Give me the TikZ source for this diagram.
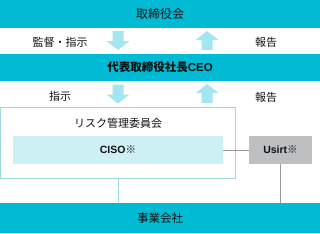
\documentclass[tikz,border=0pt]{standalone}
\usepackage{fontspec}
\setmainfont{Noto Sans CJK JP}
\newfontfamily\latinbold{Liberation Sans}[Scale=1.0]
\definecolor{teal1}{HTML}{00BBD3}
\definecolor{arrowc}{HTML}{A5E5EF}
\definecolor{riskb}{HTML}{9ED8E0}
\definecolor{cisof}{HTML}{CCF0F4}
\definecolor{usirtf}{HTML}{BEBFC1}
\definecolor{linec}{HTML}{9A9A9A}
\definecolor{txt}{HTML}{111111}
\begin{document}
\begin{tikzpicture}[x=1pt,y=-1pt,
  bar/.style={fill=teal1, minimum width=320pt, inner sep=0pt, text=txt, font=\fontsize{12}{14}\selectfont},
  lbl/.style={text=txt, inner sep=0pt, font=\fontsize{11}{13}\selectfont},
  blockarr/.pic={\fill[arrowc] (-5.5,-9.5) -- (5.5,-9.5) -- (5.5,0.5) -- (11.5,0.5) -- (0,9.5) -- (-11.5,0.5) -- (-5.5,0.5) -- cycle;},
  conn/.style={draw=linec, line width=0.8pt},
  smallbox/.style={minimum height=28pt, inner sep=0pt, text=txt, font=\fontsize{10.5}{12}\selectfont\bfseries}
]
\useasboundingbox (0,0) rectangle (320,233);
% bars
\node[bar, minimum height=28pt] (board) at (160,14) {取締役会};
\node[bar, minimum height=27pt, font=\fontsize{11.5}{13}\selectfont\bfseries] (ceo) at (160,67.5) {代表取締役社長{\latinbold\bfseries CEO}};
\node[bar, minimum height=30pt, font=\fontsize{11.5}{13}\selectfont] (company) at (160,218) {事業会社};
% labels row 1
\node[lbl] (l1) at (60,42) {監督・指示};
\node[lbl] (r1) at (266,42) {報告};
\pic at (118,40.5) {blockarr};
\pic[yscale=-1] at (207,40.5) {blockarr};
% labels row 2
\node[lbl] (l2) at (60,96) {指示};
\node[lbl] (r2) at (266,97) {報告};
\pic at (118,94) {blockarr};
\pic[yscale=-1] at (207,93.5) {blockarr};
% risk committee
\node[draw=riskb, line width=1pt, minimum width=235pt, minimum height=71pt, inner sep=0pt] (risk) at (118,143) {};
\node[lbl] (risklbl) at (118,123) {リスク管理委員会};
\node[smallbox, fill=cisof, minimum width=210pt] (ciso) at (118,150) {{\latinbold\bfseries CISO}※};
\node[smallbox, fill=usirtf, minimum width=63pt] (usirt) at (280.5,150) {{\latinbold\bfseries Usirt}※};
% connectors
\draw[conn] (ciso.east) -- (usirt.west);
\draw[draw=riskb, line width=1pt] (risk.south) -- (risk.south |- company.north);
\draw[conn] (usirt.south) -- (usirt.south |- company.north);
\end{tikzpicture}
\end{document}
